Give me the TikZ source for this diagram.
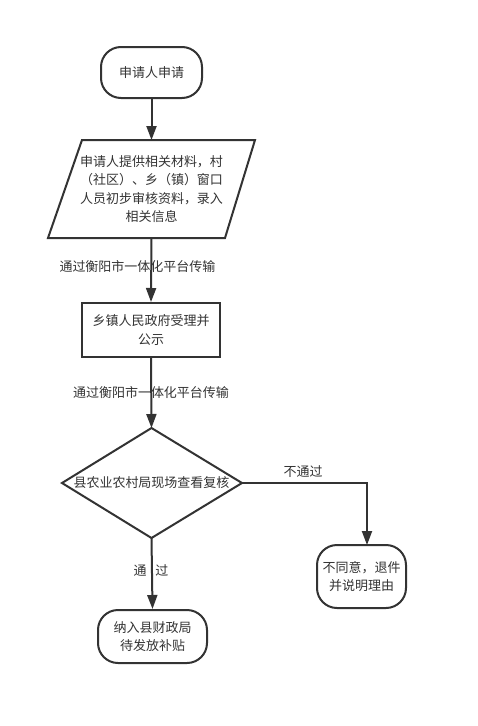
\documentclass[tikz,border=0pt]{standalone}
\usepackage{fontspec}
\newfontfamily\cjk{Noto Sans CJK SC}
\usetikzlibrary{arrows.meta}
\definecolor{ink}{HTML}{333333}
\begin{document}
\begin{tikzpicture}[x=1pt,y=-1pt,
  every node/.style={font=\cjk\fontsize{13}{18.5}\selectfont, text=ink, inner sep=0pt, align=center},
  lnk/.style={draw=ink, line width=2pt},
  arr/.style={lnk, -{Triangle[length=14pt,width=10pt]}},
  term/.style={draw=ink, line width=2pt, rounded corners=20pt},
  proc/.style={draw=ink, line width=2pt},
  lbl/.style={}
]
\useasboundingbox[fill=white] (0,0) rectangle (478,726);

% start
\node[term, minimum width=101pt, minimum height=51pt] (start) at (151.5,72.5) {申请人申请};

% parallelogram
\node[minimum width=177pt, minimum height=98pt] (para) at (151.5,189) {申请人提供相关材料，村\\（社区）、乡（镇）窗口\\人员初步审核资料，录入\\相关信息};
\draw[ink, line width=2pt, line join=miter] (82,140) -- (255,140) -- (225,238) -- (48,238) -- cycle;

% process
\node[proc, minimum width=138pt, minimum height=54pt] (proc) at (151,330) {乡镇人民政府受理并\\公示};

% diamond
\coordinate (dT) at (151.5,428);
\coordinate (dB) at (151.5,538);
\coordinate (dL) at (62,483);
\coordinate (dR) at (242,483);
\draw[ink, line width=2pt, line join=miter] (dT) -- (dR) -- (dB) -- (dL) -- cycle;
\node (dtext) at (151.5,483) {县农业农村局现场查看复核};

% reject
\node[term, minimum width=89pt, minimum height=63pt] (rej) at (361.5,576.5) {不同意，退件\\并说明理由};
\coordinate (rejin) at (367,545);

% end
\node[term, minimum width=109pt, minimum height=53pt] (fin) at (152.5,636.5) {纳入县财政局\\待发放补贴};

% connectors
\draw[arr] (start.south) -- (151.5,140);
\draw[arr] (151.5,238) -- (proc.north);
\draw[arr] (proc.south) -- (dT);
\draw[arr] (dR) -| (rejin);
\draw[arr] (dB) -- (fin.north);

% labels
\node[lbl] (l1) at (137.5,267) {通过衡阳市一体化平台传输};
\node[lbl] (l2) at (151,393) {通过衡阳市一体化平台传输};
\node[lbl] (l3) at (303,472) {不通过};
\node[lbl] (l4) at (151,571) {通\hspace{9pt}过};
\end{tikzpicture}
\end{document}
